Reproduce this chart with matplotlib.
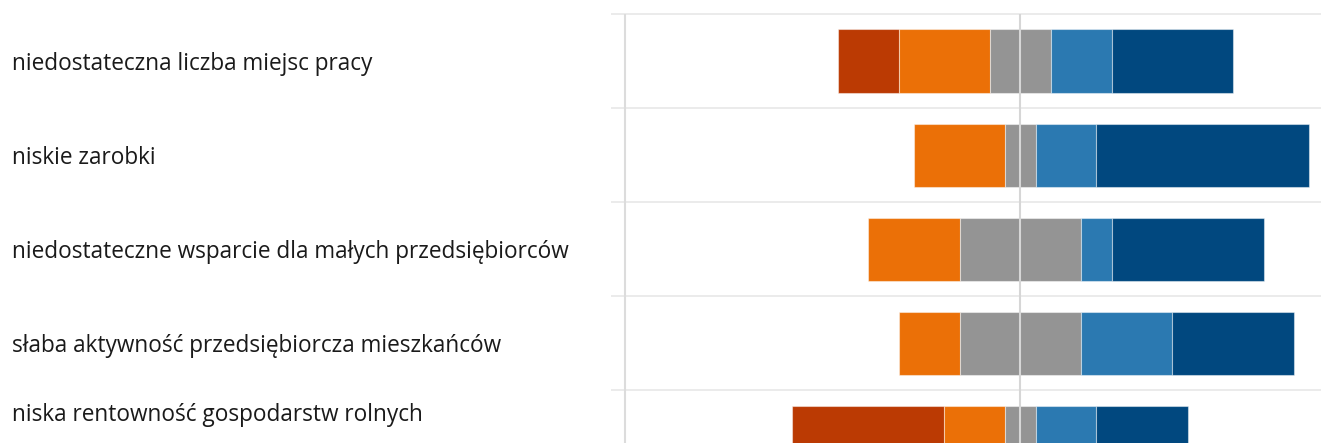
import matplotlib.pyplot as plt
from matplotlib.transforms import blended_transform_factory

categories = [
    "niedostateczna liczba miejsc pracy",
    "niskie zarobki",
    "niedostateczne wsparcie dla małych przedsiębiorców",
    "słaba aktywność przedsiębiorcza mieszkańców",
    "niska rentowność gospodarstw rolnych",
]
zdecydowanie_nie = [2, 0, 0, 0, 5]
raczej_nie = [3, 3, 3, 2, 2]
trudno_powiedziec = [2, 1, 4, 4, 1]
raczej_tak = [2, 2, 1, 3, 2]
zdecydowanie_tak = [4, 7, 5, 4, 3]

colors = ["#BB3A03", "#EB7007", "#949494", "#2B79B1", "#01487F"]
series = [zdecydowanie_nie, raczej_nie, trudno_powiedziec, raczej_tak, zdecydowanie_tak]

plt.rcParams["font.family"] = ["Open Sans", "DejaVu Sans"]

fig = plt.figure(figsize=(13.21, 4.43), dpi=100)
ax = fig.add_axes([611 / 1321, 0, 710 / 1321, 1])

y_pos = list(range(len(categories)))
for i in y_pos:
    left = -(zdecydowanie_nie[i] + raczej_nie[i] + trudno_powiedziec[i] / 2)
    for s, color in zip(series, colors):
        if s[i] > 0:
            ax.barh(
                i,
                s[i],
                left=left,
                height=0.67,
                color=color,
                edgecolor=(1, 1, 1, 0.45),
                linewidth=0.8,
                zorder=2,
            )
        left += s[i]

for yg in [-0.5, 0.5, 1.5, 2.5, 3.5]:
    ax.axhline(yg, color="#ebebeb", linewidth=1.4, zorder=1)

ax.vlines(-13, -0.5, 5, color="#dcdcdc", linewidth=1.5, zorder=1)
ax.vlines(0, -0.5, 5, color="#d6d6d6", linewidth=1.5, zorder=3)

ax.set_xlim(-13.47, 9.89)
ax.set_ylim(4.058, -0.648)
ax.axis("off")

# the last label would be cut at the bottom edge, so it sits a bit higher
trans = blended_transform_factory(fig.transFigure, ax.transData)
for i, label in enumerate(categories):
    fig.text(
        12 / 1321,
        min(i, 3.73) + 0.03,
        label,
        transform=trans,
        ha="left",
        va="center",
        fontsize=16.3,
        color="#1a1a1a",
    )

fig.savefig("out.png", dpi=100)
